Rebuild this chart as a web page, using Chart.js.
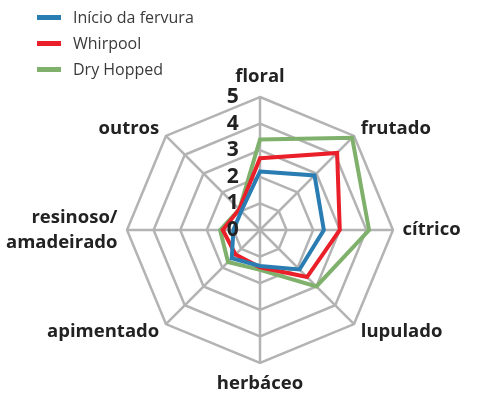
<!DOCTYPE html>
<html>
<head>
<meta charset="utf-8">
<script src="https://cdn.jsdelivr.net/npm/chart.js@4"></script>
<style>
  html, body { margin: 0; padding: 0; background: #fff; }
  #wrap { position: relative; width: 500px; height: 412px; }
  #legend { position: absolute; left: 37px; top: 4px; font-family: "Open Sans", sans-serif; font-size: 16px; color: #3a3a3a; }
  #legend div { height: 26px; display: flex; align-items: center; }
  #legend span.mk { display: inline-block; width: 24px; height: 5px; margin-right: 12px; }
</style>
</head>
<body>
<div id="wrap">
  <canvas id="radar" width="500" height="412"></canvas>
  <div id="legend"></div>
</div>
<script>
const categories = ['floral', 'frutado', 'cítrico', 'lupulado', 'herbáceo', 'apimentado', ['resinoso/', 'amadeirado'], 'outros'];
const seriesNames = ['Início da fervura', 'Whirpool', 'Dry Hopped'];
const inicioValues = [2.2, 2.9, 2.4, 2.1, 1.35, 1.5, 1.0, 1.0];
const whirpoolValues = [2.7, 4.1, 3.0, 2.5, 1.4, 1.3, 1.4, 1.1];
const dryHoppedValues = [3.4, 4.9, 4.1, 3.0, 1.5, 1.7, 1.5, 1.1];
const tickValues = [0, 1, 2, 3, 4, 5];
const colors = ['#2a7db3', '#ea1f29', '#80b16c'];

const datasets = [inicioValues, whirpoolValues, dryHoppedValues].map((vals, i) => ({
  label: seriesNames[i],
  data: vals,
  borderColor: colors[i],
  borderWidth: 4,
  pointRadius: 0,
  fill: false,
  tension: 0
}));

// legend as html, vertical like the original
const legend = document.getElementById('legend');
seriesNames.forEach((name, i) => {
  const row = document.createElement('div');
  row.innerHTML = '<span class="mk" style="background:' + colors[i] + '"></span>' + name;
  legend.appendChild(row);
});

new Chart(document.getElementById('radar'), {
  type: 'radar',
  data: { labels: categories, datasets: datasets },
  options: {
    responsive: false,
    animation: false,
    plugins: { legend: { display: false }, tooltip: { enabled: false } },
    scales: {
      r: {
        min: 0,
        max: 5,
        // keep the web where the original has it instead of the auto fit around the labels
        beforeFit: (scale) => {
          scale.setCenterPoint = function () {
            this.xCenter = 260;
            this.yCenter = 230;
            this.drawingArea = 133;
          };
        },
        // chart.js skips the label of the first tick, so put a spare 0 in front to get "0" drawn
        afterBuildTicks: (scale) => { scale.ticks = [0].concat(tickValues).map(v => ({ value: v })); },
        angleLines: { color: '#b3b3b3', lineWidth: 2.5 },
        grid: { color: '#b3b3b3', lineWidth: 2.5 },
        ticks: {
          z: 1,
          showLabelBackdrop: false,
          color: '#222',
          font: { family: '"Open Sans", sans-serif', size: 21, weight: 'bold' },
          callback: (v) => v + '          '
        },
        pointLabels: {
          color: '#222',
          padding: -3,
          font: (ctx) => {
            // diagonal labels: tiny line height so the text is centred on the corner like the original
            const diag = ctx.index % 2 === 1;
            const lh = diag ? 0.1 : (ctx.index === 6 ? 1.35 : 1.2);
            return { family: '"Open Sans", sans-serif', size: 18.5, weight: 'bold', lineHeight: lh };
          }
        }
      }
    }
  }
});
</script>
</body>
</html>
